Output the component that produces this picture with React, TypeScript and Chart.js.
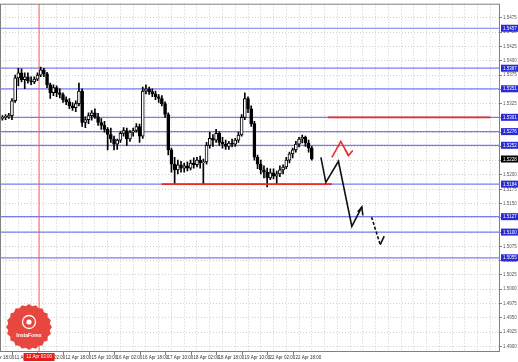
import React, { useEffect, useRef } from 'react';
import { Chart, registerables } from 'chart.js';

Chart.register(...registerables);

// hour index of each 2-hour bar (0 = 11 Apr 10:00)
const barHours = [
  -6, -4, -2, 0, 2, 4, 6, 8, 10, 12, 14, 16, 18, 20, 22, 24, 26, 28, 30, 32,
  34, 36, 38, 40, 42, 44, 46, 48, 50, 52, 54, 56, 58, 60, 62, 64, 66, 68, 70, 72,
  74, 76, 78, 80, 82, 84, 86, 88, 90, 92, 94, 96, 98, 100, 102, 104, 106, 108, 110, 112,
  114, 116, 118, 120, 122, 124, 126, 128, 130, 132, 134, 136, 138, 140, 142, 144, 146, 148, 150, 152,
  154, 156, 158, 160, 162, 164, 166, 168, 170, 172, 174, 176, 178, 180, 182, 184, 186, 188,
];

const opens = [
  1.5299, 1.5301, 1.5302, 1.5304, 1.5330, 1.5370, 1.5379, 1.5367, 1.5372, 1.5365,
  1.5363, 1.5368, 1.5375, 1.5384, 1.5377, 1.5358, 1.5344, 1.5353, 1.5344, 1.5341,
  1.5332, 1.5328, 1.5321, 1.5318, 1.5325, 1.5347, 1.5292, 1.5297, 1.5304, 1.5309,
  1.5302, 1.5292, 1.5287, 1.5280, 1.5271, 1.5263, 1.5254, 1.5261, 1.5273, 1.5278,
  1.5263, 1.5275, 1.5278, 1.5285, 1.5268, 1.5347, 1.5351, 1.5346, 1.5342, 1.5337,
  1.5334, 1.5325, 1.5306, 1.5244, 1.5219, 1.5209, 1.5218, 1.5212, 1.5216, 1.5212,
  1.5221, 1.5218, 1.5226, 1.5221, 1.5223, 1.5252, 1.5264, 1.5261, 1.5273, 1.5257,
  1.5254, 1.5250, 1.5256, 1.5254, 1.5261, 1.5270, 1.5301, 1.5334, 1.5316, 1.5290,
  1.5231, 1.5219, 1.5209, 1.5205, 1.5195, 1.5204, 1.5198, 1.5202, 1.5209, 1.5214,
  1.5226, 1.5237, 1.5244, 1.5254, 1.5263, 1.5266, 1.5256, 1.5247,
];

const highs = [
  1.5304, 1.5306, 1.5308, 1.5334, 1.5375, 1.5387, 1.5386, 1.5379, 1.5379, 1.5372,
  1.5372, 1.5379, 1.5389, 1.5387, 1.5380, 1.5361, 1.5358, 1.5356, 1.5351, 1.5344,
  1.5337, 1.5334, 1.5327, 1.5330, 1.5361, 1.5351, 1.5302, 1.5309, 1.5313, 1.5316,
  1.5308, 1.5299, 1.5294, 1.5283, 1.5282, 1.5268, 1.5263, 1.5276, 1.5283, 1.5282,
  1.5278, 1.5282, 1.5290, 1.5289, 1.5354, 1.5358, 1.5354, 1.5351, 1.5347, 1.5341,
  1.5339, 1.5328, 1.5309, 1.5247, 1.5231, 1.5226, 1.5224, 1.5221, 1.5223, 1.5226,
  1.5230, 1.5231, 1.5233, 1.5228, 1.5257, 1.5275, 1.5271, 1.5280, 1.5276, 1.5266,
  1.5261, 1.5259, 1.5263, 1.5264, 1.5275, 1.5306, 1.5344, 1.5337, 1.5321, 1.5294,
  1.5235, 1.5226, 1.5216, 1.5212, 1.5211, 1.5211, 1.5207, 1.5216, 1.5218, 1.5231,
  1.5240, 1.5247, 1.5259, 1.5266, 1.5270, 1.5268, 1.5261, 1.5250,
];

const lows = [
  1.5296, 1.5297, 1.5299, 1.5297, 1.5327, 1.5356, 1.5363, 1.5351, 1.5361, 1.5358,
  1.5360, 1.5365, 1.5372, 1.5372, 1.5353, 1.5334, 1.5339, 1.5337, 1.5335, 1.5327,
  1.5323, 1.5316, 1.5313, 1.5311, 1.5321, 1.5285, 1.5283, 1.5290, 1.5296, 1.5299,
  1.5287, 1.5280, 1.5275, 1.5244, 1.5257, 1.5244, 1.5245, 1.5257, 1.5268, 1.5252,
  1.5259, 1.5268, 1.5275, 1.5257, 1.5264, 1.5342, 1.5341, 1.5337, 1.5332, 1.5327,
  1.5321, 1.5301, 1.5235, 1.5205, 1.5185, 1.5202, 1.5205, 1.5205, 1.5207, 1.5209,
  1.5212, 1.5214, 1.5212, 1.5185, 1.5219, 1.5247, 1.5250, 1.5257, 1.5252, 1.5247,
  1.5245, 1.5245, 1.5249, 1.5250, 1.5257, 1.5268, 1.5297, 1.5309, 1.5285, 1.5226,
  1.5211, 1.5202, 1.5195, 1.5179, 1.5192, 1.5193, 1.5185, 1.5197, 1.5202, 1.5211,
  1.5221, 1.5230, 1.5240, 1.5249, 1.5256, 1.5250, 1.5240, 1.5226,
];

const closes = [
  1.5301, 1.5302, 1.5304, 1.5330, 1.5370, 1.5379, 1.5367, 1.5372, 1.5365, 1.5363,
  1.5368, 1.5375, 1.5384, 1.5377, 1.5358, 1.5344, 1.5353, 1.5344, 1.5341, 1.5332,
  1.5328, 1.5321, 1.5318, 1.5325, 1.5347, 1.5292, 1.5297, 1.5304, 1.5309, 1.5302,
  1.5292, 1.5287, 1.5280, 1.5271, 1.5263, 1.5254, 1.5261, 1.5273, 1.5278, 1.5263,
  1.5275, 1.5278, 1.5285, 1.5268, 1.5347, 1.5351, 1.5346, 1.5342, 1.5337, 1.5334,
  1.5325, 1.5306, 1.5244, 1.5219, 1.5209, 1.5218, 1.5212, 1.5216, 1.5212, 1.5221,
  1.5218, 1.5226, 1.5221, 1.5223, 1.5252, 1.5264, 1.5261, 1.5273, 1.5257, 1.5254,
  1.5250, 1.5256, 1.5254, 1.5261, 1.5270, 1.5301, 1.5334, 1.5316, 1.5290, 1.5231,
  1.5219, 1.5209, 1.5205, 1.5195, 1.5204, 1.5198, 1.5202, 1.5209, 1.5214, 1.5226,
  1.5237, 1.5244, 1.5254, 1.5263, 1.5266, 1.5256, 1.5247, 1.5228,
];

// horizontal levels
const blueLevels = [1.5457, 1.5387, 1.5351, 1.5301, 1.5276, 1.5252, 1.5184, 1.5127, 1.5100, 1.5055];
const redLevels = [1.5301, 1.5184];
const redStartHours = [198, 94];
const redEndHours = [300, 200.6];

// vertical marker
const markerHour = 17;
const markerLabel = '12 Apr 03:00';

// forecast drawings
const blackPathH = [193.7, 196.8, 204.7, 213.1, 219.4];
const blackPathP = [1.5231, 1.5187, 1.5224, 1.5110, 1.5144];
const blackHeadH = [216.8, 219.4, 220.0];
const blackHeadP = [1.5135, 1.5144, 1.5129];
const dashedH = [225.5, 230.9];
const dashedP = [1.5126, 1.5078];
const dashedTailH = [230.9, 233.4];
const dashedTailP = [1.5078, 1.5093];
const redPathH = [200.6, 206.2, 211.0];
const redPathP = [1.5231, 1.5259, 1.5234];
const redHeadH = [208.9, 211.0, 213.7];
const redHeadP = [1.5245, 1.5234, 1.5243];

// axes
const yMin = 1.489;
const yMax = 1.55;
const xMin = -7.5;
const xMax = 306;
const yTickValues = [
  1.4900, 1.4925, 1.4950, 1.4975, 1.5000, 1.5025, 1.5050, 1.5075, 1.5100, 1.5125,
  1.5150, 1.5175, 1.5200, 1.5225, 1.5250, 1.5275, 1.5300, 1.5325, 1.5350, 1.5375,
  1.5400, 1.5425, 1.5450, 1.5475,
];
const xGridHours = [
  -8, 0, 8, 16, 24, 32, 40, 48, 56, 64, 72, 80, 88, 96, 104, 112, 120, 128, 136, 144,
  152, 160, 168, 176, 184, 192, 200, 208, 216, 224, 232, 240, 248, 256, 264, 272, 280, 288, 296, 304,
];
const xLabelHours = [-16, 0, 16, 32, 48, 64, 80, 96, 112, 128, 144, 160, 176];
const xLabels = [
  '10 Apr 18:00', '11 Apr 10:00', '12 Apr 02:00', '12 Apr 18:00', '15 Apr 10:00',
  '16 Apr 02:00', '16 Apr 18:00', '17 Apr 10:00', '18 Apr 02:00', '18 Apr 18:00',
  '19 Apr 10:00', '22 Apr 02:00', '22 Apr 18:00',
];
const logoText = 'InstaForex';

const FONT = '"Liberation Sans", Arial, sans-serif';

const pts = (hs: number[], ps: number[]) => hs.map((h, i) => ({ x: h, y: ps[i] }));

const overlay = {
  id: 'overlay',
  afterDraw(chart: any) {
    const { ctx, chartArea: a, scales } = chart;
    const x = scales.x;
    const y = scales.y;
    ctx.save();
    // frame
    ctx.strokeStyle = '#808080';
    ctx.lineWidth = 1;
    ctx.setLineDash([]);
    ctx.strokeRect(a.left + 0.5, a.top + 0.5, a.right - a.left - 1, a.bottom - a.top - 1);

    // x labels
    ctx.font = `4.5px ${FONT}`;
    ctx.fillStyle = '#333';
    ctx.textAlign = 'left';
    ctx.textBaseline = 'middle';
    xLabelHours.forEach((h, i) => {
      const px = Math.round(x.getPixelForValue(h)) + 0.5;
      ctx.beginPath();
      ctx.moveTo(px, a.bottom);
      ctx.lineTo(px, a.bottom + 3);
      ctx.stroke();
      ctx.fillText(xLabels[i], px + 2, a.bottom + 5.5);
    });

    // marker label
    const mx = x.getPixelForValue(markerHour);
    ctx.fillStyle = '#e3201b';
    ctx.fillRect(mx - 15.5, a.bottom + 1, 31, 8);
    ctx.fillStyle = '#fff';
    ctx.textAlign = 'center';
    ctx.fillText(markerLabel, mx, a.bottom + 5.2);

    // y level labels
    ctx.textAlign = 'left';
    const drawTag = (v: number, bg: string) => {
      const py = y.getPixelForValue(v);
      ctx.fillStyle = bg;
      ctx.fillRect(a.right + 1, py - 3.5, 17, 7);
      ctx.fillStyle = '#fff';
      ctx.fillText(v.toFixed(4), a.right + 3, py + 0.3);
    };
    blueLevels.forEach((v) => drawTag(v, '#2a2ad6'));
    drawTag(closes[closes.length - 1], '#000');

    // logo
    const cx = 29;
    const cy = 327;
    const n = 20;
    ctx.beginPath();
    for (let k = 0; k < n * 2; k++) {
      const ang = (k * Math.PI) / n;
      const rr = k % 2 ? 21 : 23;
      ctx.lineTo(cx + rr * Math.cos(ang), cy + rr * Math.sin(ang));
    }
    ctx.closePath();
    ctx.fillStyle = '#e8473f';
    ctx.fill();
    ctx.strokeStyle = '#fff';
    ctx.lineWidth = 1.3;
    ctx.beginPath();
    ctx.arc(cx, cy - 5, 6.5, 0, Math.PI * 2);
    ctx.stroke();
    ctx.fillStyle = '#fff';
    ctx.beginPath();
    ctx.arc(cx, cy - 5, 2.6, 0, Math.PI * 2);
    ctx.fill();
    ctx.font = `bold 5px ${FONT}`;
    ctx.textAlign = 'center';
    ctx.fillText(logoText, cx, cy + 9);
    ctx.restore();
  },
};

export default function App() {
  const ref = useRef<HTMLCanvasElement>(null);

  useEffect(() => {
    if (!ref.current) return;
    const lineDs = (data: any[], color: string, width: number, order: number, dash: number[] = []) => ({
      type: 'line' as const,
      data,
      borderColor: color,
      borderWidth: width,
      borderDash: dash,
      pointRadius: 0,
      fill: false,
      tension: 0,
      order,
    });

    const datasets: any[] = [
      // forecast arrows
      lineDs(pts(blackPathH, blackPathP), '#111', 1.6, 0),
      lineDs(pts(blackHeadH, blackHeadP), '#111', 1.6, 0),
      lineDs(pts(dashedH, dashedP), '#111', 1.6, 0, [3, 2]),
      lineDs(pts(dashedTailH, dashedTailP), '#111', 1.6, 0),
      lineDs(pts(redPathH, redPathP), '#e8302a', 1.6, 0),
      lineDs(pts(redHeadH, redHeadP), '#e8302a', 1.6, 0),
      // red levels
      ...redLevels.map((v, i) =>
        lineDs([{ x: redStartHours[i], y: v }, { x: redEndHours[i], y: v }], '#ec2a24', 1.6, 1)
      ),
      // candle bodies
      {
        type: 'bar',
        data: barHours.map((h, i) => ({ x: h, y: [opens[i], closes[i]] })),
        backgroundColor: barHours.map((_, i) => (closes[i] >= opens[i] ? '#ffffff' : '#000000')),
        borderColor: '#000',
        borderWidth: 1,
        borderSkipped: false,
        barThickness: 3,
        minBarLength: 1,
        grouped: false,
        order: 2,
      },
      // wicks
      {
        type: 'bar',
        data: barHours.map((h, i) => ({ x: h, y: [lows[i], highs[i]] })),
        backgroundColor: '#000',
        borderWidth: 0,
        barThickness: 1,
        grouped: false,
        order: 3,
      },
      // vertical marker
      lineDs([{ x: markerHour, y: yMin }, { x: markerHour, y: yMax }], '#ee5a55', 1, 4),
      // blue levels
      ...blueLevels.map((v) =>
        lineDs([{ x: xMin, y: v }, { x: xMax, y: v }], '#7b7bee', 1.2, 5)
      ),
    ];

    const chart = new Chart(ref.current, {
      type: 'bar',
      data: { datasets },
      options: {
        animation: false,
        responsive: false,
        devicePixelRatio: 1,
        layout: { padding: 0 },
        plugins: { legend: { display: false }, tooltip: { enabled: false } },
        scales: {
          x: {
            type: 'linear',
            min: xMin,
            max: xMax,
            offset: false,
            afterBuildTicks: (s: any) => {
              s.ticks = xGridHours.map((v) => ({ value: v }));
            },
            afterFit: (s: any) => {
              s.height = 10;
            },
            ticks: { display: false },
            grid: { color: '#cfcfcf', lineWidth: 1, drawTicks: false },
            border: { display: false, dash: [1, 2] },
          },
          y: {
            type: 'linear',
            position: 'right',
            min: yMin,
            max: yMax,
            afterBuildTicks: (s: any) => {
              s.ticks = yTickValues.map((v) => ({ value: v }));
            },
            afterFit: (s: any) => {
              s.width = 18;
            },
            ticks: {
              color: '#555',
              font: { size: 4.5, family: FONT },
              padding: 1,
              callback: (v: any) => Number(v).toFixed(4),
            },
            grid: { color: '#cfcfcf', lineWidth: 1, drawTicks: true, tickLength: 2, tickColor: '#808080' },
            border: { display: false, dash: [1, 2] },
          },
        },
      },
      plugins: [overlay],
    });
    return () => chart.destroy();
  }, []);

  return (
    <div style={{ position: 'absolute', left: 0, top: 0, width: 518, height: 362, background: '#fff' }}>
      <canvas ref={ref} width={518} height={362} style={{ display: 'block' }} />
    </div>
  );
}
